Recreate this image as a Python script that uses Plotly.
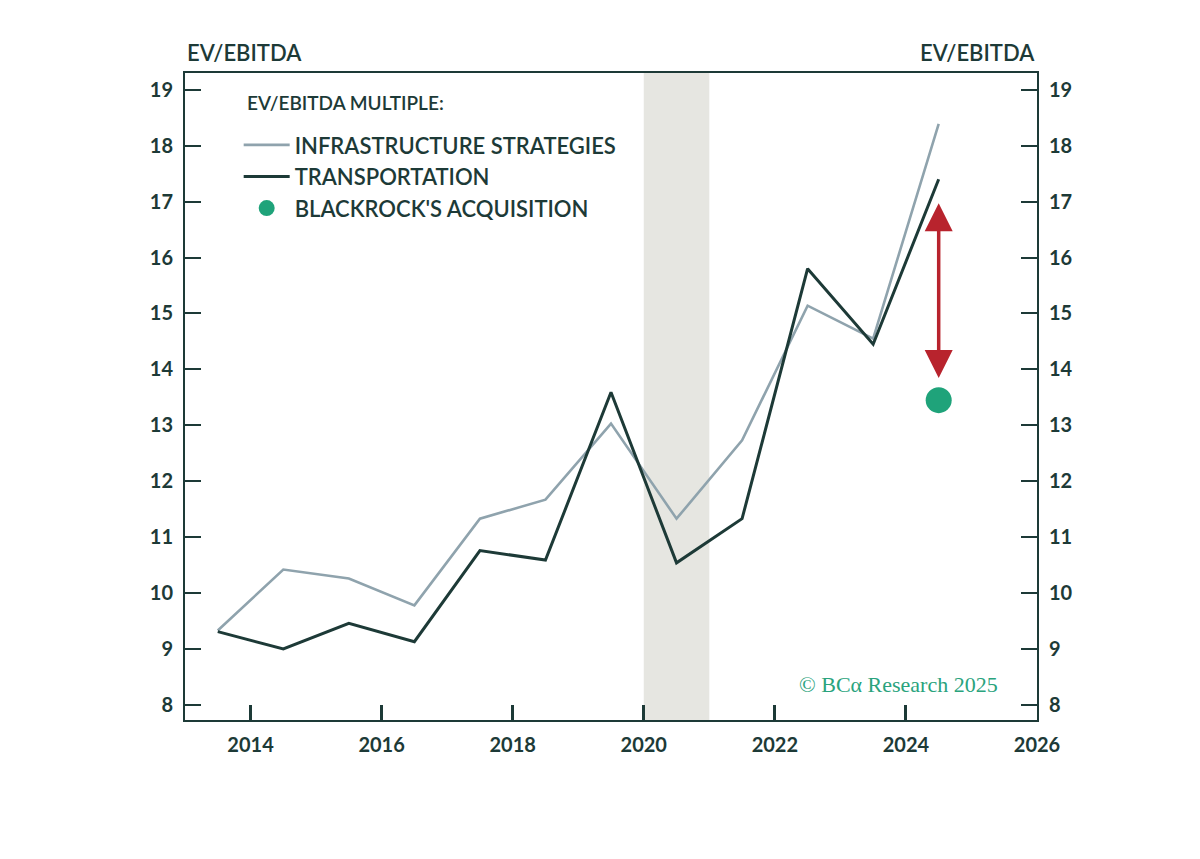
"""
EV/EBITDA multiple: infrastructure strategies vs. transportation,
with BlackRock's acquisition multiple marked for comparison.
"""

import plotly.graph_objects as go

# ── Data ───────────────────────────────────────────────────────────────
years = [2013.5, 2014.5, 2015.5, 2016.5, 2017.5, 2018.5,
         2019.5, 2020.5, 2021.5, 2022.5, 2023.5, 2024.5]
infra = [9.33, 10.42, 10.26, 9.78, 11.33, 11.67,
         13.03, 11.33, 12.73, 15.14, 14.55, 18.39]
transport = [9.31, 9.00, 9.46, 9.13, 10.76, 10.59,
             13.59, 10.54, 11.33, 15.80, 14.45, 17.40]
deal_year = [2024.5]
deal_multiple = [13.45]
arrow_top = 16.97
arrow_bottom = 13.82
recession = [2020, 2021]
x_ticks = [2014, 2016, 2018, 2020, 2022, 2024, 2026]
y_ticks = list(range(8, 20))

INK = "#1d3a37"
FONT = "Lato"
Y_RANGE = [7.73, 19.3]

fig = go.Figure()

fig.add_trace(go.Scatter(
    x=years, y=infra, mode="lines", name="INFRASTRUCTURE STRATEGIES",
    line=dict(color="#8fa3ad", width=2.6), legendgroup="a",
))
fig.add_trace(go.Scatter(
    x=years, y=transport, mode="lines", name="TRANSPORTATION",
    line=dict(color=INK, width=3), legendgroup="b",
))
fig.add_trace(go.Scatter(
    x=deal_year, y=deal_multiple, mode="markers", name="BLACKROCK'S ACQUISITION",
    marker=dict(color="#1fa37a", size=26), legendgroup="c",
))
# invisible trace so the right-hand axis is drawn
fig.add_trace(go.Scatter(
    x=years[:1], y=infra[:1], yaxis="y2", mode="markers",
    marker=dict(opacity=0), showlegend=False, hoverinfo="skip",
))

# shaded 2020 band
fig.add_vrect(x0=recession[0], x1=recession[1], fillcolor="#e6e6e1",
              line_width=0, layer="below")

# red double-headed arrow: gap between deal multiple and sector multiple
fig.add_annotation(
    x=deal_year[0], y=arrow_top, ax=deal_year[0], ay=arrow_bottom,
    xref="x", yref="y", axref="x", ayref="y", text="",
    showarrow=True, arrowhead=2, startarrowhead=2, arrowside="end+start",
    arrowsize=1.6, startarrowsize=1.6, arrowwidth=3.5, arrowcolor="#b8232d",
)

axis_font = dict(family=FONT, size=20, color=INK, weight="bold")

for text, x, anchor in [("EV/EBITDA", 0, "left"), ("EV/EBITDA", 1, "right")]:
    fig.add_annotation(
        text=text, x=x, y=1, xref="paper", yref="paper",
        xanchor=anchor, yanchor="bottom", yshift=5, showarrow=False,
        font=dict(family=FONT, size=22, color=INK, weight=600),
    )

# legend heading
fig.add_annotation(
    text="EV/EBITDA MULTIPLE:", x=0.071, y=0.954, xref="paper", yref="paper",
    xanchor="left", yanchor="middle", showarrow=False,
    font=dict(family=FONT, size=19, color=INK, weight=600),
)

fig.add_annotation(
    text="© BCα Research 2025", x=0.956, y=0.055, xref="paper", yref="paper",
    xanchor="right", yanchor="middle", showarrow=False,
    font=dict(family="Liberation Serif", size=22, color="#2aa37d"),
)

fig.update_layout(
    width=1200, height=859,
    margin=dict(l=177, r=171, t=65, b=147),
    paper_bgcolor="white", plot_bgcolor="white",
    font=dict(family=FONT, color=INK),
    showlegend=True,
    legend=dict(
        x=0.063, y=0.921, xanchor="left", yanchor="top",
        bgcolor="rgba(0,0,0,0)",
        font=dict(family=FONT, size=22, color=INK, weight=600),
        traceorder="grouped", tracegroupgap=0, itemwidth=46,
    ),
    xaxis=dict(
        range=[2013, 2026], tickvals=x_ticks, ticks="inside", ticklen=15,
        tickwidth=2.5, tickcolor=INK, showline=True, linecolor=INK,
        linewidth=2, mirror=True, showgrid=False, zeroline=False,
        tickfont=axis_font, ticklabelstandoff=6,
    ),
    yaxis=dict(
        range=Y_RANGE, tickvals=y_ticks, ticks="inside", ticklen=16,
        tickwidth=2, tickcolor=INK, showline=True, linecolor=INK,
        linewidth=2, showgrid=False, zeroline=False, tickfont=axis_font,
        ticklabelstandoff=6,
    ),
    yaxis2=dict(
        range=Y_RANGE, tickvals=y_ticks, overlaying="y", side="right",
        ticks="inside", ticklen=16, tickwidth=2, tickcolor=INK,
        showline=True, linecolor=INK, linewidth=2, showgrid=False,
        zeroline=False, tickfont=axis_font, ticklabelstandoff=6,
    ),
)

fig.write_html("out.html")
